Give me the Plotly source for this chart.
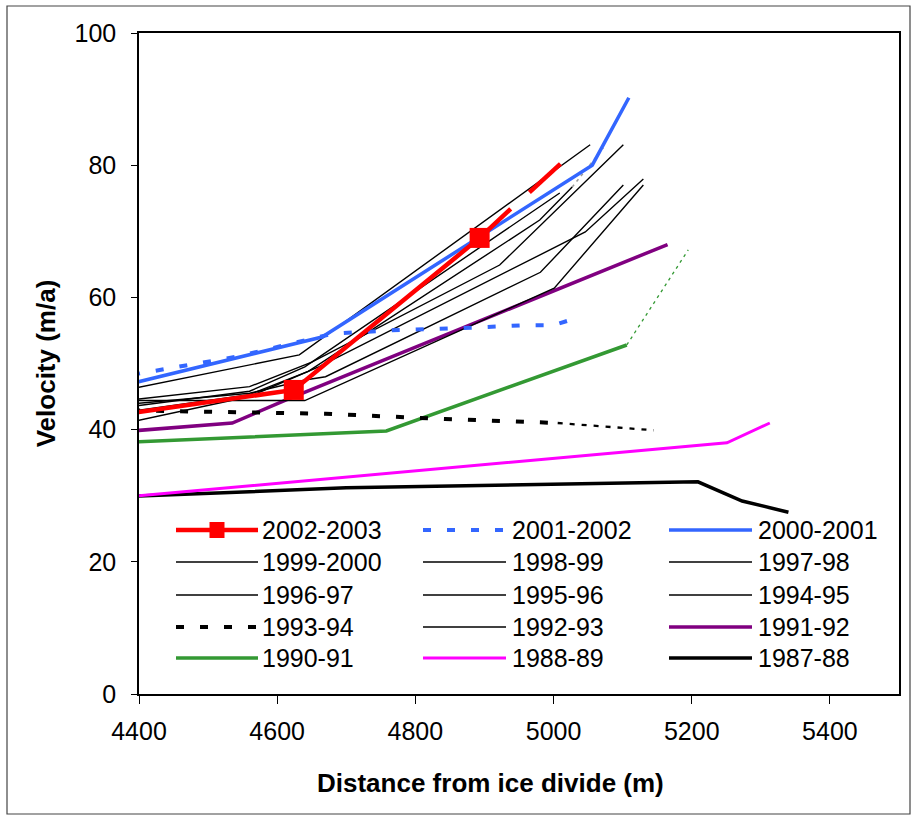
import plotly.graph_objects as go

# ---------------- data ----------------
x_0203 = [4390, 4624, 4893, 4938, None, 4965, 5010]
v_0203 = [42.5, 46.0, 69.0, 73.4, None, 75.9, 80.2]
marker_0203 = [0, 20, 20, 0, 0, 0, 0]

x_0102 = [4390, 4540, 4680, 4760, 4880, 4960, 5000, 5034]
v_0102 = [48.3, 51.0, 54.5, 55.0, 55.4, 55.8, 55.8, 56.9]

x_0001 = [4390, 4665, 5056, 5109]
v_0001 = [47.0, 54.0, 80.0, 90.2]

x_9900 = [4390, 4632, 5053]
v_9900 = [46.2, 51.3, 83.1]

x_9899 = [4390, 4560, 4650, 4833, 4922, 5101]
v_9899 = [44.5, 46.5, 50.2, 60.1, 64.9, 83.1]

x_9798 = [4390, 4560, 4640, 5009]
v_9798 = [43.5, 45.8, 49.5, 75.8]

x_9697 = [4390, 4560, 4645, 4980, 5027]
v_9697 = [42.8, 45.3, 48.8, 71.7, 76.7]
x_9697_ext = [5027, 5072]
v_9697_ext = [76.7, 82.6]

x_9596 = [4390, 4560, 4640, 4670, 4981, 5101]
v_9596 = [43.9, 45.5, 47.5, 48.0, 63.8, 77.0]

x_9495 = [4390, 4560, 4660, 5046, 5130]
v_9495 = [41.2, 45.0, 49.5, 69.9, 77.9]

x_9394 = [4390, 4670, 4843, 5006]
v_9394 = [42.9, 42.4, 41.6, 41.0]
x_9394_ext = [5006, 5089, 5145]
v_9394_ext = [41.0, 40.4, 39.9]

x_9293 = [4390, 4640, 5001, 5130]
v_9293 = [44.4, 44.4, 61.4, 77.0]

x_9192 = [4390, 4535, 4613, 5165]
v_9192 = [39.8, 41.0, 44.5, 68.0]

x_9091 = [4390, 4758, 5106]
v_9091 = [38.1, 39.8, 52.8]
x_9091_ext = [5106, 5195]
v_9091_ext = [52.8, 67.2]

x_8889 = [4390, 5251, 5313]
v_8889 = [29.9, 38.0, 41.0]

x_8788 = [4390, 4700, 5209, 5273, 5340]
v_8788 = [29.9, 31.2, 32.1, 29.2, 27.5]

x_ticks = [4400, 4600, 4800, 5000, 5200, 5400]
y_ticks = [0, 20, 40, 60, 80, 100]

# legend order (row-major, 3 columns)
legend_names = ["2002-2003", "2001-2002", "2000-2001",
                "1999-2000", "1998-99", "1997-98",
                "1996-97", "1995-96", "1994-95",
                "1993-94", "1992-93", "1991-92",
                "1990-91", "1988-89", "1987-88"]

X_TITLE = "Distance from ice divide (m)"
Y_TITLE = "Velocity (m/a)"

FONT = "Liberation Sans, Arial, sans-serif"
RED = "#FF0000"
BLUE = "#3366FF"
PURPLE = "#800080"
GREEN = "#339933"
MAGENTA = "#FF00FF"

styles = {
    "2002-2003": (RED, 4.5, "solid"),
    "2001-2002": (BLUE, 4, "8px,16px"),
    "2000-2001": (BLUE, 3.5, "solid"),
    "1999-2000": ("black", 1.4, "solid"),
    "1998-99": ("black", 1.4, "solid"),
    "1997-98": ("black", 1.4, "solid"),
    "1996-97": ("black", 1.4, "solid"),
    "1995-96": ("black", 1.4, "solid"),
    "1994-95": ("black", 1.4, "solid"),
    "1993-94": ("black", 4, "8px,16px"),
    "1992-93": ("black", 1.4, "solid"),
    "1991-92": (PURPLE, 3.5, "solid"),
    "1990-91": (GREEN, 3.5, "solid"),
    "1988-89": (MAGENTA, 3, "solid"),
    "1987-88": ("black", 3.5, "solid"),
}

fig = go.Figure()

def add(x, y, name, color, width, dash="solid", mode="lines", marker=None):
    fig.add_trace(go.Scatter(
        x=x, y=y, name=name, mode=mode,
        line=dict(color=color, width=width, dash=dash),
        marker=marker, showlegend=False,
        connectgaps=False, hoverinfo="skip",
    ))

def add_series(x, y, name, **kw):
    c, w, d = styles[name]
    add(x, y, name, c, w, d, **kw)

# drawn bottom to top
add_series(x_8788, v_8788, "1987-88")
add_series(x_8889, v_8889, "1988-89")
add(x_9091_ext, v_9091_ext, "1990-91 ext", GREEN, 1.3, dash="3px,4px")
add_series(x_9091, v_9091, "1990-91")
add_series(x_9192, v_9192, "1991-92")
add_series(x_9293, v_9293, "1992-93")
add(x_9394_ext, v_9394_ext, "1993-94 ext", "black", 2.3, dash="5px,7px")
add_series(x_9394, v_9394, "1993-94")
add_series(x_9495, v_9495, "1994-95")
add_series(x_9596, v_9596, "1995-96")
add(x_9697_ext, v_9697_ext, "1996-97 ext", "#999999", 1.5, dash="3px,4px")
add_series(x_9697, v_9697, "1996-97")
add_series(x_9798, v_9798, "1997-98")
add_series(x_9899, v_9899, "1998-99")
add_series(x_9900, v_9900, "1999-2000")
add_series(x_0001, v_0001, "2000-2001")
add_series(x_0102, v_0102, "2001-2002")
add_series(x_0203, v_0203, "2002-2003", mode="lines+markers",
           marker=dict(symbol="square", size=marker_0203, color=RED, opacity=1,
                       line=dict(width=0, color=RED)))

# ---------------- layout geometry (pixels) ----------------
W, H = 918, 819
ML, MR, MT, MB = 139, 19, 33, 125
PW, PH = W - ML - MR, H - MT - MB

def px(xp):
    return (xp - ML) / PW

def py(yp):
    return (H - MB - yp) / PH

axis_common = dict(
    showgrid=False, zeroline=False, showline=True, linecolor="black", linewidth=1.5,
    mirror=True, ticks="outside", tickcolor="black", tickwidth=1,
    tickfont=dict(family=FONT, size=25, color="black"),
)

fig.update_xaxes(
    range=[4400, 5500], tickvals=x_ticks, ticktext=[str(t) for t in x_ticks], ticklen=8,
    ticklabelstandoff=6,
    **axis_common,
)
fig.update_yaxes(
    range=[0, 100], tickvals=y_ticks, ticktext=[str(t) for t in y_ticks], ticklen=6,
    ticklabelstandoff=10,
    title=dict(text="<b>" + Y_TITLE + "</b>", font=dict(family=FONT, size=26, color="black"), standoff=11),
    **axis_common,
)

# ---------------- hand-drawn legend (3 columns x 5 rows) ----------------
row_y = [530, 562, 595, 627, 658]
col_sym = [(176, 258), (423, 506), (669, 752)]
col_txt = [260, 510, 756]

shapes = [dict(type="rect", xref="paper", yref="paper",
               x0=px(7), x1=px(910), y0=py(814), y1=py(6),
               line=dict(color="#444444", width=1.2), fillcolor="rgba(0,0,0,0)", layer="below")]
annotations = []
for i, name in enumerate(legend_names):
    r, c = divmod(i, 3)
    color, width, dash = styles[name]
    x0, x1 = col_sym[c]
    yy = row_y[r]
    shapes.append(dict(type="line", xref="paper", yref="paper",
                       x0=px(x0), x1=px(x1), y0=py(yy), y1=py(yy),
                       line=dict(color=color, width=width, dash=dash)))
    if name == "2002-2003":
        cx = (x0 + x1) / 2
        shapes.append(dict(type="rect", xref="paper", yref="paper",
                           x0=px(cx - 7.5), x1=px(cx + 7.5), y0=py(yy + 8), y1=py(yy - 8),
                           line=dict(width=0), fillcolor=RED))
    annotations.append(dict(xref="paper", yref="paper", x=px(col_txt[c]), y=py(yy),
                            text=name, showarrow=False, xanchor="left", yanchor="middle",
                            font=dict(family=FONT, size=25, color="black")))

# x-axis title (sits slightly left of the plot centre in the reference)
annotations.append(dict(xref="paper", yref="paper", x=px(490), y=py(783),
                        text="<b>" + X_TITLE + "</b>", showarrow=False,
                        xanchor="center", yanchor="middle",
                        font=dict(family=FONT, size=26, color="black")))

fig.update_layout(
    width=W, height=H,
    margin=dict(l=ML, r=MR, t=MT, b=MB, autoexpand=False),
    paper_bgcolor="white", plot_bgcolor="white",
    font=dict(family=FONT, color="black"),
    showlegend=False,
    shapes=shapes,
    annotations=annotations,
)

fig.write_html("out.html")
